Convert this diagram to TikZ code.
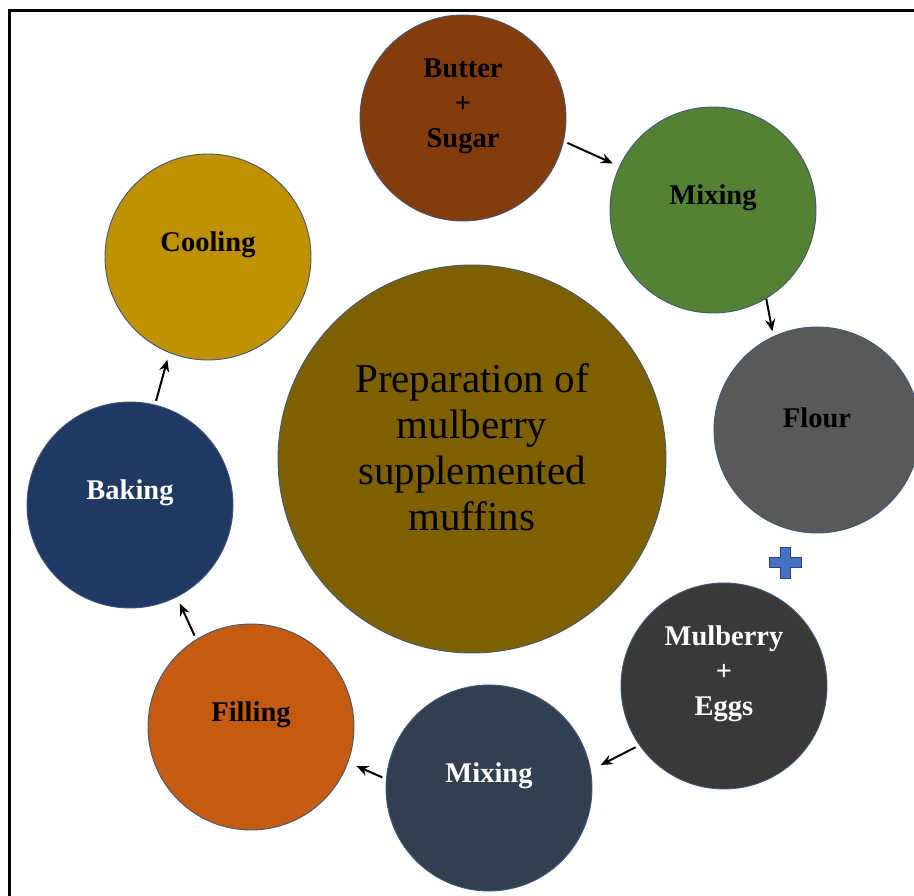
\documentclass[tikz,border=0pt]{standalone}
\usepackage{fontspec}
\setmainfont{Liberation Serif}
\usetikzlibrary{arrows.meta}
\definecolor{edgec}{HTML}{3F5878}
\definecolor{butterc}{HTML}{843C0C}
\definecolor{greenc}{HTML}{548235}
\definecolor{flourc}{HTML}{595959}
\definecolor{berryc}{HTML}{3A3838}
\definecolor{slatec}{HTML}{323F4F}
\definecolor{fillc}{HTML}{C55A11}
\definecolor{bakec}{HTML}{1F3864}
\definecolor{coolc}{HTML}{BF9000}
\definecolor{mainc}{HTML}{7F6000}
\definecolor{plusc}{HTML}{4472C4}
\begin{document}
\begin{tikzpicture}[x=1pt,y=-1pt,
    stage/.style={circle,draw=edgec,line width=0.9pt,minimum size=206pt,inner sep=0pt},
    lbl/.style={font=\fontsize{28.5}{35}\selectfont\bfseries,align=center,yshift=12pt},
    flow/.style={-{Stealth[length=12pt,width=10pt]},line width=2pt,shorten <=4pt,shorten >=7pt}]
        \useasboundingbox (0,0) rectangle (914,896);
        % Frame
        \draw[line width=3pt] (9,896) -- (9,11) -- (914,11);
        % Centre circle
        \node[stage,fill=mainc,minimum size=388pt,
            label={[yshift=12pt,font=\fontsize{41}{46}\selectfont,align=center]center:{Preparation of\\mulberry\\supplemented\\muffins}}] (prep) at (472,459) {};
        % Steps
        \node[stage,fill=butterc,label={[lbl]center:{Butter\\+\\Sugar}}] (butter) at (463,118) {};
        \node[stage,fill=greenc,label={[lbl]center:Mixing}] (mixa) at (713,210) {};
        \node[stage,fill=flourc,label={[lbl]center:Flour}] (flour) at (817,430) {};
        \node[stage,fill=berryc,label={[lbl,text=white]center:{Mulberry\\+\\Eggs}}] (berry) at (724,686) {};
        \node[stage,fill=slatec,label={[lbl,text=white]center:Mixing}] (mixb) at (489,788) {};
        \node[stage,fill=fillc,label={[lbl]center:Filling}] (filling) at (251,727) {};
        \node[stage,fill=bakec,label={[lbl,text=white]center:Baking}] (baking) at (130,505) {};
        \node[stage,fill=coolc,label={[lbl]center:Cooling}] (cooling) at (208,257) {};
        % Plus sign
        \filldraw[fill=plusc,draw=plusc!60!black,line width=0.6pt]
            (780,547) -- (790,547) -- (790,557) -- (801,557) -- (801,567) -- (790,567)
            -- (790,578) -- (780,578) -- (780,567) -- (769,567) -- (769,557) -- (780,557) -- cycle;
        % Arrows
        \draw[flow] (butter.-13) -- (mixa.155);
        \draw[flow,shorten <=0pt,shorten >=5pt] (mixa.-59) -- (flour.115);
        \draw[flow,shorten >=11pt] (berry.215) -- (mixb.10);
        \draw[flow,shorten >=9pt] (mixb.175) -- (filling.-20);
        \draw[flow] (filling.122) -- (baking.-63);
        \draw[flow] (baking.76) -- (cooling.-112);
    \end{tikzpicture}
\end{document}
